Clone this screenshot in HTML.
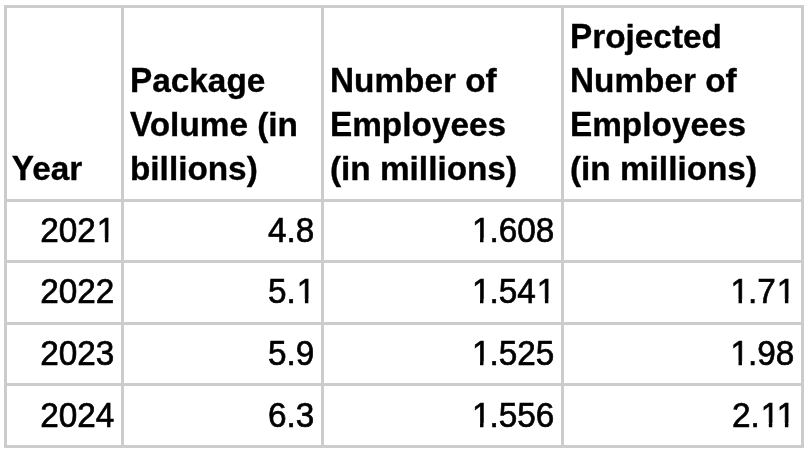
<!DOCTYPE html>
<html><head><meta charset="utf-8"><title>Table</title>
<style>
html,body{margin:0;padding:0;background:#fff;}
body{box-sizing:border-box;padding:5px 0 0 4px;width:811px;height:455px;position:relative;overflow:hidden;font-family:"Liberation Sans",Arial,Helvetica,sans-serif;color:#000;}
table{margin:0;width:800px;border-collapse:separate;border-spacing:0;table-layout:fixed;border-left:3px solid #ccc;border-top:3px solid #ccc;}
td,th{box-sizing:border-box;padding:0;border-right:3px solid #ccc;border-bottom:3px solid #ccc;font-weight:normal;text-align:left;}
.c{position:absolute;font-size:33.333px;line-height:44px;white-space:nowrap;}
.b{font-weight:bold;}
.c{-webkit-text-stroke:0.65px #000;}
.b{-webkit-text-stroke:0.35px #000;}
.r{text-align:right;transform:scaleY(1.04);transform-origin:0 15px;}
.k{display:inline-block;transform:scaleY(1.045);transform-origin:0 33px;}
.o{display:inline-block;position:relative;left:1px;clip-path:polygon(0 0,100% 0,100% 29.6px,11.55px 29.6px,11.55px 100%,8.15px 100%,8.15px 29.6px,0 29.6px);}
</style></head><body>
<table>
<colgroup><col style="width:117px"><col style="width:200px"><col style="width:240px"><col style="width:240px"></colgroup>
<thead>
<tr style="height:194px">
<th><div class="c b" style="left:11.8px;top:147px"><span class="k" style="margin-right:-1.84px">Y</span>ear</div></th>
<th><div class="c b" style="left:130px;top:59px"><span class="k">P</span>ackage<br><span class="k" style="margin-right:-2.47px">V</span>olume (in<br>billions)</div></th>
<th><div class="c b" style="left:330px;top:59px"><span class="k">N</span>umber of<br><span class="k">E</span>mployees<br>(in millions)</div></th>
<th><div class="c b" style="left:570px;top:15px"><span class="k">P</span>rojected<br><span class="k">N</span>umber of<br><span class="k">E</span>mployees<br>(in millions)</div></th>
</tr>
</thead>
<tbody>
<tr style="height:61px">
<td><div class="c r" style="right:696.7px;top:208px">202<span class="o">1</span></div></td>
<td><div class="c r" style="right:496.7px;top:208px">4.8</div></td>
<td><div class="c r" style="right:256.7px;top:208px"><span class="o">1</span>.608</div></td>
<td></td>
</tr>
<tr style="height:62px">
<td><div class="c r" style="right:696.7px;top:269px">2022</div></td>
<td><div class="c r" style="right:496.7px;top:269px">5.<span class="o">1</span></div></td>
<td><div class="c r" style="right:256.7px;top:269px"><span class="o">1</span>.54<span class="o">1</span></div></td>
<td><div class="c r" style="right:16.7px;top:269px"><span class="o">1</span>.7<span class="o">1</span></div></td>
</tr>
<tr style="height:61px">
<td><div class="c r" style="right:696.7px;top:331px">2023</div></td>
<td><div class="c r" style="right:496.7px;top:331px">5.9</div></td>
<td><div class="c r" style="right:256.7px;top:331px"><span class="o">1</span>.525</div></td>
<td><div class="c r" style="right:16.7px;top:331px"><span class="o">1</span>.98</div></td>
</tr>
<tr style="height:62px">
<td><div class="c r" style="right:696.7px;top:393px">2024</div></td>
<td><div class="c r" style="right:496.7px;top:393px">6.3</div></td>
<td><div class="c r" style="right:256.7px;top:393px"><span class="o">1</span>.556</div></td>
<td><div class="c r" style="right:16.7px;top:393px">2.<span class="o">1</span><span class="o" style="margin-left:-2.47px">1</span></div></td>
</tr>
</tbody>
</table>
</body></html>
